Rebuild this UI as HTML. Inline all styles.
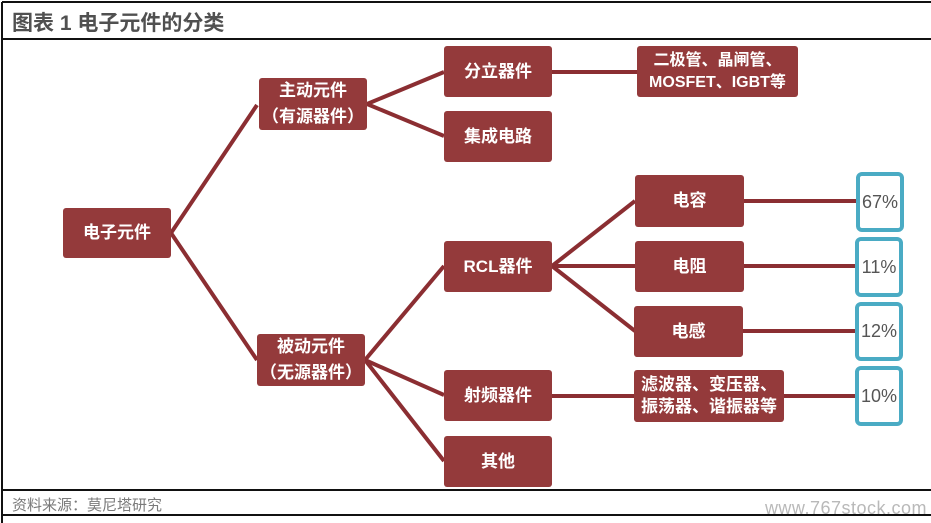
<!DOCTYPE html>
<html><head><meta charset="utf-8"><style>
body{margin:0;width:931px;height:523px;background:#fff;position:relative;overflow:hidden;font-family:"Liberation Sans","Noto Sans CJK SC",sans-serif}
.h{position:absolute;left:2px;right:0;height:2px;background:#111}
.v{position:absolute;left:1px;top:2px;width:2px;height:521px;background:#111}
.t{position:absolute;left:12px;top:7px;font-size:21px;font-weight:bold;color:#505050}
.f{position:absolute;left:12px;top:494px;font-size:15px;color:#7a7a7a}
.w{position:absolute;right:4px;top:498px;font-size:18px;color:#b9b9b9;letter-spacing:.5px}
.b{position:absolute;background:#943a3b;color:#fff;font-size:17px;font-weight:bold;display:flex;align-items:center;justify-content:center;text-align:center;border-radius:3px;line-height:26px}
.p{position:absolute;border:4px solid #4aabc4;border-radius:6px;box-sizing:border-box;background:#fff;color:#555;font-size:18px;display:flex;align-items:center;justify-content:center}
svg{position:absolute;left:0;top:0}
</style></head><body>
<div class="h" style="top:1px"></div>
<div class="h" style="top:38px"></div>
<div class="h" style="top:489px"></div>
<div class="h" style="top:514px"></div>
<div class="v"></div>
<div class="t">图表 1 电子元件的分类</div>
<div class="f">资料来源：莫尼塔研究</div>
<div class="w">www.767stock.com</div>
<svg width="931" height="523"><g stroke="#8b2e32" stroke-width="4" fill="none">
<path d="M171 233L257 105M171 233L257 360"/>
<path d="M367 104L444 72M367 104L444 136"/>
<path d="M365 360L444 266M365 360L444 395M365 360L444 461"/>
<path d="M552 266L635 201M552 266L635 266M552 266L635 331"/>
<path d="M552 72L637 72M552 396L634 396"/>
<path d="M744 201L857 201M744 266L856 266M743 331L856 331M784 396L856 396"/>
</g></svg>
<div class="b" style="left:63px;top:208px;width:108px;height:50px">电子元件</div>
<div class="b" style="left:259px;top:78px;width:108px;height:52px">主动元件<br>（有源器件）</div>
<div class="b" style="left:257px;top:334px;width:108px;height:52px">被动元件<br>（无源器件）</div>
<div class="b" style="left:444px;top:46px;width:108px;height:51px">分立器件</div>
<div class="b" style="left:444px;top:111px;width:108px;height:51px">集成电路</div>
<div class="b" style="left:444px;top:241px;width:108px;height:51px">RCL器件</div>
<div class="b" style="left:444px;top:370px;width:108px;height:51px">射频器件</div>
<div class="b" style="left:444px;top:436px;width:108px;height:51px">其他</div>
<div class="b" style="left:637px;top:46px;width:161px;height:51px;line-height:22px;font-size:16px">二极管、晶闸管、<br>MOSFET、IGBT等</div>
<div class="b" style="left:635px;top:175px;width:109px;height:52px">电容</div>
<div class="b" style="left:635px;top:241px;width:109px;height:51px">电阻</div>
<div class="b" style="left:634px;top:306px;width:109px;height:51px">电感</div>
<div class="b" style="left:634px;top:370px;width:150px;height:52px;line-height:22px">滤波器、变压器、<br>振荡器、谐振器等</div>
<div class="p" style="left:856px;top:172px;width:48px;height:60px">67%</div>
<div class="p" style="left:855px;top:237px;width:48px;height:60px">11%</div>
<div class="p" style="left:855px;top:302px;width:48px;height:59px">12%</div>
<div class="p" style="left:855px;top:366px;width:48px;height:60px">10%</div>
</body></html>
